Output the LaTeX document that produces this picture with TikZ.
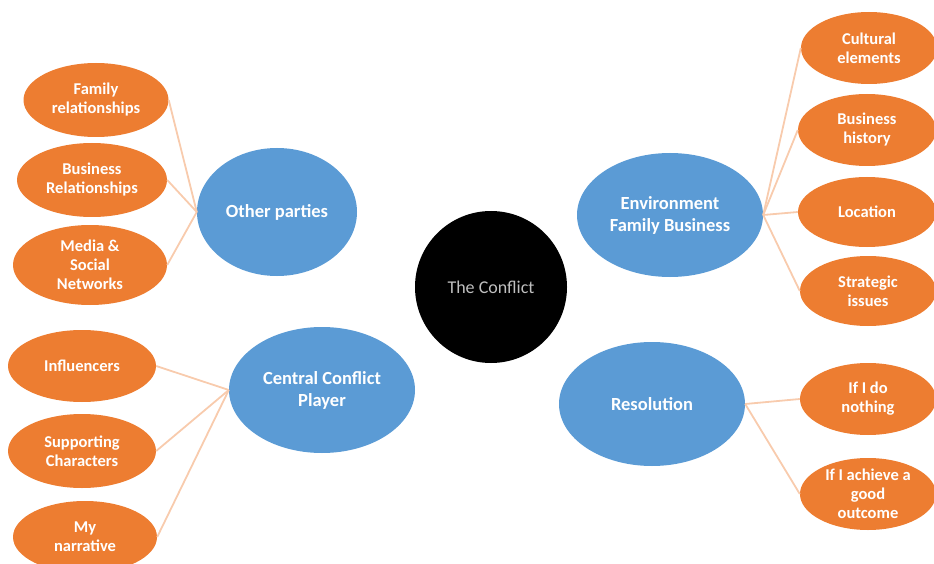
\documentclass[tikz,border=0pt]{standalone}
\usepackage{fontspec}
\setmainfont{Carlito}
\usetikzlibrary{shapes.geometric}
\definecolor{orng}{HTML}{ED7D31}
\definecolor{blu}{HTML}{5B9BD5}
\definecolor{lnk}{HTML}{F8CBAD}
\definecolor{gtxt}{HTML}{BFBFBF}
\tikzset{
  leaf/.style={ellipse, fill=orng, text=white, inner sep=0pt, align=center,
    font=\bfseries\fontsize{16.5}{19}\selectfont},
  hub/.style={ellipse, fill=blu, text=white, inner sep=0pt, align=center,
    font=\bfseries\fontsize{18.5}{22}\selectfont},
  core/.style={circle, fill=black, text=gtxt, inner sep=0pt, minimum size=152pt,
    font=\fontsize{18}{22}\selectfont},
  link/.style={draw=lnk, line width=1.8pt}
}
\begin{document}
\begin{tikzpicture}[x=1pt,y=-1pt]
\useasboundingbox (0,0) rectangle (934,564);
% nodes
\node[core] (c) at (491,287) {The Conflict};
\node[hub, minimum width=160pt, minimum height=128pt] (op) at (277,212) {Other parties};
\node[hub, minimum width=186pt, minimum height=126pt] (ccp) at (322,390) {Central Conflict\\Player};
\node[hub, minimum width=186pt, minimum height=124pt] (env) at (670,215) {Environment\\Family Business};
\node[hub, minimum width=186pt, minimum height=124pt] (res) at (652,404) {Resolution};

\node[leaf, minimum width=145pt, minimum height=74pt] (fam) at (96,100) {Family\\relationships};
\node[leaf, minimum width=150pt, minimum height=74pt] (bus) at (92,180) {Business\\Relationships};
\node[leaf, minimum width=154pt, minimum height=80pt] (med) at (90,265) {Media \&\\Social\\Networks};

\node[leaf, minimum width=148pt, minimum height=72pt] (inf) at (82,366) {Influencers};
\node[leaf, minimum width=148pt, minimum height=74pt] (sup) at (82,451) {Supporting\\Characters};
\node[leaf, minimum width=144pt, minimum height=72pt] (nar) at (85,537) {My\\narrative};

\node[leaf, minimum width=136pt, minimum height=72pt] (cul) at (869,48) {Cultural\\elements};
\node[leaf, minimum width=138pt, minimum height=72pt] (his) at (867,130) {Business\\history};
\node[leaf, minimum width=138pt, minimum height=70pt] (loc) at (867,212) {Location};
\node[leaf, minimum width=136pt, minimum height=70pt] (str) at (868,291) {Strategic\\issues};

\node[leaf, minimum width=136pt, minimum height=72pt] (nth) at (868,399) {If I do\\nothing};
\node[leaf, minimum width=136pt, minimum height=72pt] (goo) at (868,494) {If I achieve a\\good\\outcome};

% connectors
\draw[link] (fam.east) -- (op.west);
\draw[link] (bus.east) -- (op.west);
\draw[link] (med.east) -- (op.west);
\draw[link] (inf.east) -- (ccp.west);
\draw[link] (sup.east) -- (ccp.west);
\draw[link] (nar.east) -- (ccp.west);
\draw[link] (env.east) -- (cul.west);
\draw[link] (env.east) -- (his.west);
\draw[link] (env.east) -- (loc.west);
\draw[link] (env.east) -- (str.west);
\draw[link] (res.east) -- (nth.west);
\draw[link] (res.east) -- (goo.west);
\end{tikzpicture}
\end{document}
